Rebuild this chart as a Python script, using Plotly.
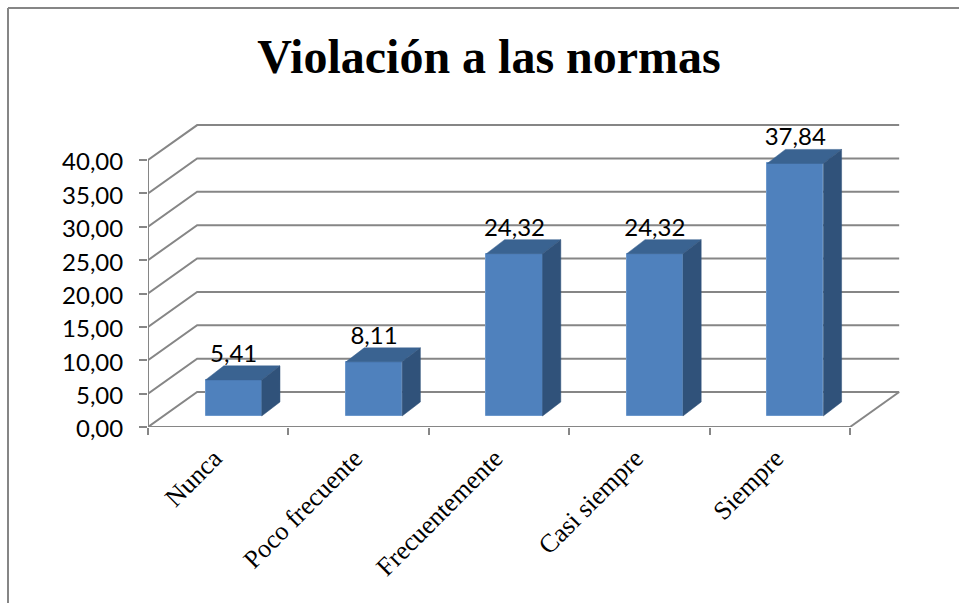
import plotly.graph_objects as go

TITLE = "Violación a las normas"
categories = ["Nunca", "Poco frecuente", "Frecuentemente", "Casi siempre", "Siempre"]
values = [5.41, 8.11, 24.32, 24.32, 37.84]
value_labels = ["5,41", "8,11", "24,32", "24,32", "37,84"]
y_ticks = [0, 5, 10, 15, 20, 25, 30, 35, 40]
y_tick_labels = ["0,00", "5,00", "10,00", "15,00", "20,00", "25,00", "30,00", "35,00", "40,00"]

GREY = "#868686"
FRONT, TOP, SIDE = "#4F81BD", "#3A6391", "#30527A"
DEPTH_X, DEPTH_Y = 0.35, 5.24          # oblique projection of the chart's depth
BAR_W = 0.40
BAR_OFF_X, BAR_OFF_Y = 0.11, 1.65      # bar front relative to category centre / floor
BAR_DX, BAR_DY = 0.13, 2.1             # bar depth
X_MAX, Y_MAX = 5.356, 45.4
W, H = 959, 603
L, R, T, B = 148, 59, 124, 176

fig = go.Figure()

def line(xs, ys):
    fig.add_trace(go.Scatter(x=xs, y=ys, mode="lines", cliponaxis=False, hoverinfo="skip",
                             line=dict(color=GREY, width=2), showlegend=False))

# walls and axes (drawn on the base axes, below the bars)
for v in y_ticks:
    line([0, DEPTH_X, X_MAX - 0.006], [v, v + DEPTH_Y, v + DEPTH_Y])
line([len(categories), len(categories) + DEPTH_X], [0, DEPTH_Y])
line([0, 0], [0, max(y_ticks)])
line([0, len(categories)], [0, 0])

# bars (overlay axes, above the walls)
centers = [i + 0.5 + BAR_OFF_X for i in range(len(categories))]
fig.add_trace(go.Bar(x=centers, y=values, base=[BAR_OFF_Y] * len(values), width=BAR_W,
                     marker=dict(color=FRONT, line=dict(color="#6C98CC", width=1)),
                     xaxis="x2", yaxis="y2", hoverinfo="skip", showlegend=False))
for c, v in zip(centers, values):
    r = c + BAR_W / 2
    l = c - BAR_W / 2
    vt = v + BAR_OFF_Y
    fig.add_trace(go.Scatter(x=[l, r, r + BAR_DX, l + BAR_DX, l],
                             y=[vt, vt, vt + BAR_DY, vt + BAR_DY, vt],
                             mode="lines", fill="toself", fillcolor=TOP,
                             line=dict(color=TOP, width=0.5), xaxis="x2", yaxis="y2",
                             hoverinfo="skip", showlegend=False))
    fig.add_trace(go.Scatter(x=[r, r + BAR_DX, r + BAR_DX, r, r],
                             y=[BAR_OFF_Y, BAR_OFF_Y + BAR_DY, vt + BAR_DY, vt, BAR_OFF_Y],
                             mode="lines", fill="toself", fillcolor=SIDE,
                             line=dict(color=SIDE, width=0.5), xaxis="x2", yaxis="y2",
                             hoverinfo="skip", showlegend=False))

fig.add_trace(go.Scatter(x=centers, y=[v + BAR_OFF_Y + BAR_DY - 0.3 for v in values],
                         mode="text", text=value_labels, textposition="top center",
                         textfont=dict(family="Lato", size=24, color="#000000"),
                         cliponaxis=False, xaxis="x2", yaxis="y2",
                         hoverinfo="skip", showlegend=False))

pw, ph = W - L - R, H - T - B
frame_x0 = (8 - L) / pw
frame_x1 = (W - L) / pw
frame_top = 1 + (T - 8) / ph
frame_bot = -B / ph
fig.add_shape(type="line", xref="paper", yref="paper", x0=frame_x0, x1=frame_x0, y0=frame_bot, y1=frame_top,
              line=dict(color=GREY, width=2))
fig.add_shape(type="line", xref="paper", yref="paper", x0=frame_x0, x1=frame_x1, y0=frame_top, y1=frame_top,
              line=dict(color=GREY, width=2))

fig.update_layout(
    width=W, height=H, margin=dict(l=L, r=R, t=T, b=B, pad=0, autoexpand=False),
    paper_bgcolor="white", plot_bgcolor="white", showlegend=False,
    title=dict(text=f"<b>{TITLE}</b>", x=489 / W, y=1 - 56.5 / H, xanchor="center", yanchor="middle",
               font=dict(family="Liberation Serif", size=48, color="#000000")),
    xaxis=dict(range=[0, X_MAX], showgrid=False, zeroline=False, showline=False,
               tickmode="array", tickvals=[i + 0.5 for i in range(len(categories))], ticktext=categories,
               tickangle=-45, ticks="", ticklen=0, ticklabelstandoff=10, ticklabelshift=-4,
               tickfont=dict(family="Liberation Serif", size=26, color="#000000"),
               minor=dict(tickmode="array", tickvals=list(range(len(categories) + 1)),
                          ticks="outside", ticklen=7, tickwidth=2, tickcolor=GREY, showgrid=False)),
    yaxis=dict(range=[0, Y_MAX], showgrid=False, zeroline=False, showline=False,
               tickmode="array", tickvals=y_ticks, ticktext=y_tick_labels,
               ticks="outside", ticklen=8, tickwidth=2, tickcolor=GREY, ticklabelstandoff=11, ticklabelshift=2,
               tickfont=dict(family="Lato", size=24, color="#000000")),
    xaxis2=dict(range=[0, X_MAX], overlaying="x", visible=False),
    yaxis2=dict(range=[0, Y_MAX], overlaying="y", visible=False),
    bargap=0,
)

fig.write_html("out.html", config={"displayModeBar": False},
               post_script="document.body.style.margin='0';document.documentElement.style.overflow='hidden';")
